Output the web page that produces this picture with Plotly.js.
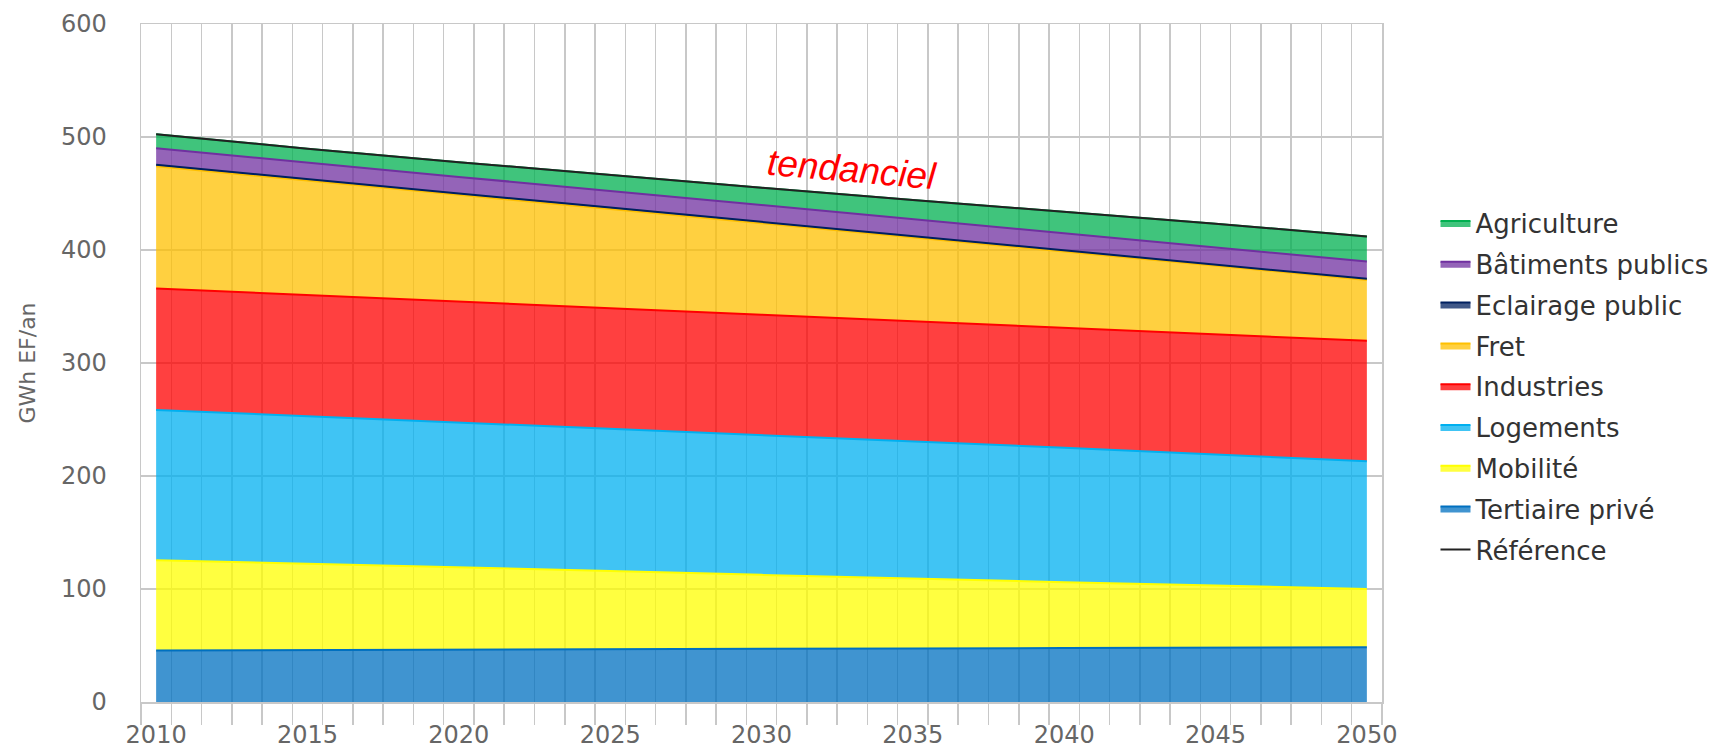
<!DOCTYPE html>
<html>
<head>
<meta charset="utf-8">
<script src="https://cdn.plot.ly/plotly-3.0.1.min.js"></script>
<style>html,body{margin:0;padding:0;background:#fff;}#chart{width:1713px;height:751px;}</style>
</head>
<body>
<div id="chart"></div>
<script>
const years = [2010, 2015, 2020, 2025, 2030, 2035, 2040, 2045, 2050];
const tickYears = [2010, 2015, 2020, 2025, 2030, 2035, 2040, 2045, 2050];
const tertiaire = [45.5, 46.0, 46.4, 46.8, 47.0, 47.4, 47.8, 48.1, 48.4];
const mobilite = [80.0, 76.5, 73.1, 69.2, 65.5, 61.6, 58.2, 54.9, 51.6];
const logements = [133.0, 130.5, 128.0, 126.0, 124.0, 122.0, 119.0, 116.0, 113.0];
const industries = [107.5, 107.0, 106.9, 106.5, 106.3, 106.0, 106.4, 106.5, 106.6];
const fret = [108.1, 101.2, 94.4, 87.8, 81.0, 74.4, 67.5, 60.9, 53.9];
const eclairage = [1.3, 1.3, 1.2, 1.2, 1.2, 1.1, 1.1, 1.1, 1.0];
const batiments = [14.6, 14.6, 14.7, 14.8, 14.9, 15.0, 15.1, 15.2, 15.3];
const agriculture = [12.4, 12.6, 13.0, 14.0, 15.2, 16.8, 18.8, 20.5, 22.2];
const reference = [502.4, 489.7, 477.7, 466.3, 455.1, 444.3, 433.9, 423.2, 412.0];

const series = [
  {name: 'Tertiaire privé', values: tertiaire, color: '#0070c0', fill: 'rgba(0,112,192,0.75)', rank: 8},
  {name: 'Mobilité', values: mobilite, color: '#ffff00', fill: 'rgba(255,255,0,0.75)', rank: 7},
  {name: 'Logements', values: logements, color: '#00b0f0', fill: 'rgba(0,176,240,0.75)', rank: 6},
  {name: 'Industries', values: industries, color: '#ff0000', fill: 'rgba(255,0,0,0.75)', rank: 5},
  {name: 'Fret', values: fret, color: '#ffc000', fill: 'rgba(255,192,0,0.75)', rank: 4},
  {name: 'Eclairage public', values: eclairage, color: '#002060', fill: 'rgba(0,32,96,0.75)', rank: 3},
  {name: 'Bâtiments publics', values: batiments, color: '#7030a0', fill: 'rgba(112,48,160,0.75)', rank: 2},
  {name: 'Agriculture', values: agriculture, color: '#00b050', fill: 'rgba(0,176,80,0.75)', rank: 1}
];

const traces = series.map(s => ({
  type: 'scatter', mode: 'lines', name: s.name,
  x: years, y: s.values, stackgroup: 'one',
  line: {color: s.color, width: 2},
  fillcolor: s.fill,
  legendrank: s.rank, legendgroup: s.name,
  hoverinfo: 'x+y+name'
}));
traces.push({
  type: 'scatter', mode: 'lines', name: 'Référence',
  x: years, y: reference, xaxis: 'x2', yaxis: 'y',
  line: {color: '#222222', width: 2},
  legendrank: 9, legendgroup: 'Référence'
});

// band boundaries for the category-style grid
const bounds = [];
for (let v = years[0] - 0.5; v <= years[years.length - 1] + 0.5; v += 1) bounds.push(v);

const tickFont = {family: 'DejaVu Sans, sans-serif', size: 24, color: '#666666'};

const layout = {
  width: 1713, height: 751,
  margin: {l: 141, r: 331, t: 24, b: 49, pad: 0, autoexpand: false},
  paper_bgcolor: '#ffffff', plot_bgcolor: '#ffffff',
  showlegend: true,
  legend: {
    xref: 'container', x: 0.838, xanchor: 'left',
    y: 0.741, yanchor: 'top',
    font: {family: 'DejaVu Sans, sans-serif', size: 26, color: '#333333'},
    traceorder: 'grouped', tracegroupgap: 4,
    bgcolor: 'rgba(0,0,0,0)'
  },
  xaxis: {
    range: [2009.5, 2050.5], type: 'linear',
    tickmode: 'array', tickvals: bounds, showticklabels: false,
    showgrid: true, gridcolor: '#c8c8c8', gridwidth: 1.5,
    ticks: 'outside', ticklen: 21, tickcolor: '#c8c8c8', tickwidth: 1.5,
    showline: true, mirror: true, linecolor: '#c8c8c8', linewidth: 1.5,
    zeroline: false, fixedrange: true
  },
  xaxis2: {
    overlaying: 'x', anchor: 'y', side: 'bottom',
    range: [2009.5, 2050.5], type: 'linear',
    tickmode: 'array', tickvals: tickYears, ticktext: tickYears.map(String),
    showgrid: false, ticks: 'outside', ticklen: 11, tickcolor: 'rgba(0,0,0,0)',
    tickfont: tickFont, showline: false, zeroline: false
  },
  yaxis: {
    range: [0, 600], dtick: 100, tick0: 0,
    showgrid: true, gridcolor: '#c8c8c8', gridwidth: 1.5,
    ticks: 'outside', ticklen: 28, tickcolor: 'rgba(0,0,0,0)',
    tickfont: tickFont, zeroline: false,
    showline: true, mirror: true, linecolor: '#c8c8c8', linewidth: 1.5,
    title: {text: 'GWh EF/an', font: {family: 'DejaVu Sans, sans-serif', size: 22, color: '#666666'}, standoff: 19}
  },
  annotations: [{
    x: 2033, y: 471, xref: 'x', yref: 'y',
    text: 'tendanciel', showarrow: false, textangle: 5,
    font: {family: 'Liberation Sans, Arial, sans-serif', size: 37, color: '#ff0000', style: 'italic'}
  }]
};

Plotly.newPlot('chart', traces, layout, {displayModeBar: false, staticPlot: true});
</script>
</body>
</html>
